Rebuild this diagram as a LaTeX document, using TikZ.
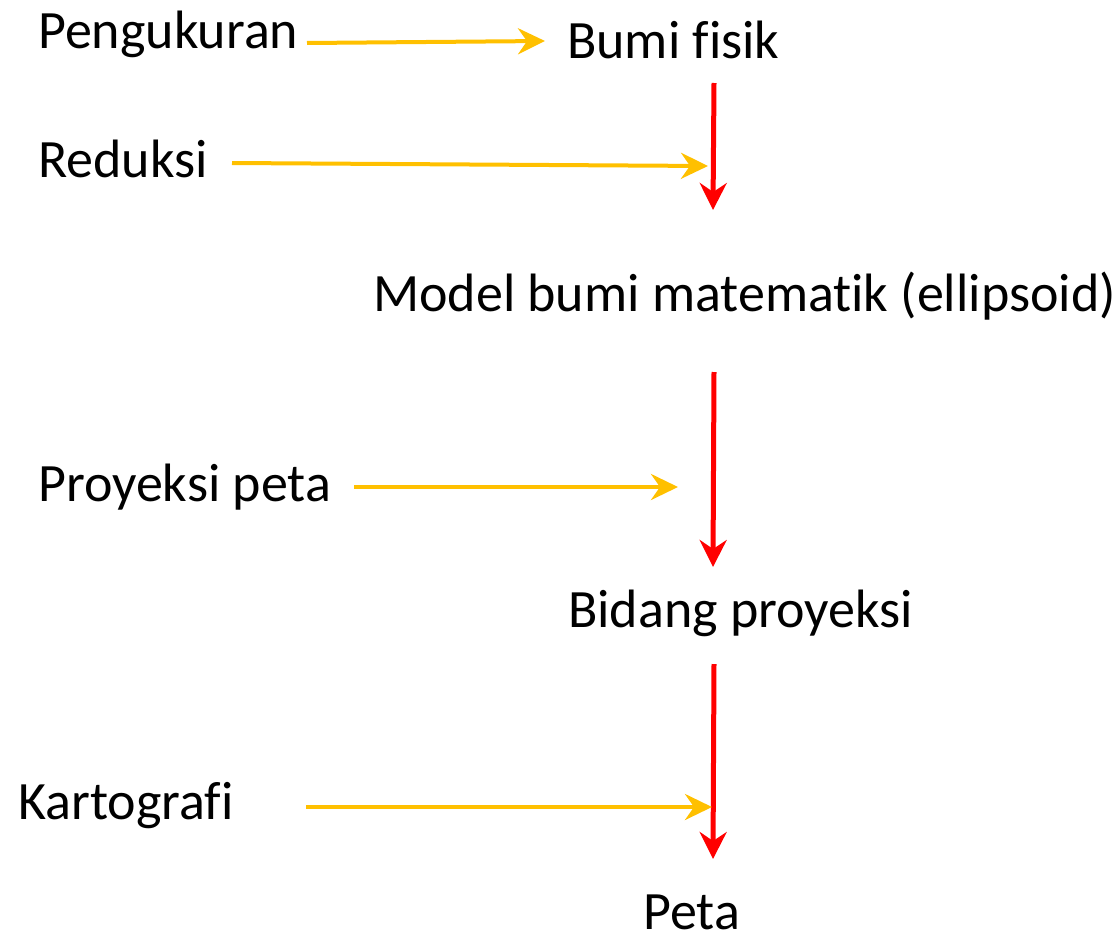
\documentclass[tikz,border=0pt]{standalone}
\usepackage{fontspec}
\setmainfont[Ligatures={NoCommon}]{Carlito}
\usetikzlibrary{arrows.meta}
\definecolor{flowyellow}{HTML}{FFC000}
\definecolor{flowred}{HTML}{FF0000}
\begin{document}
\begin{tikzpicture}[x=1pt,y=-1pt,
  label text/.style={anchor=base west,inner sep=0pt,font=\fontsize{54}{64}\selectfont},
  input arrow/.style={draw=flowyellow,line width=4pt,
    -{Stealth[length=27pt,width=26pt,inset=9pt]}},
  step arrow/.style={draw=flowred,line width=5pt,
    -{Stealth[length=27pt,width=27pt,inset=9pt]}}]
\useasboundingbox (0,0) rectangle (1119,937);

% stage labels
\node[label text] (bumi) at (567,58) {Bumi fisik};
\node[label text] (model) at (373,311) {Model bumi matematik (ellipsoid)};
\node[label text] (bidang) at (568,627) {Bidang proyeksi};
\node[label text] (peta) at (643,929) {Peta};

% process labels
\node[label text] (ukur) at (38,48) {Pengukuran};
\node[label text] (reduksi) at (38,177) {Reduksi};
\node[label text] (proyeksi) at (38,501) {Proyeksi peta};
\node[label text] (karto) at (18,819) {Kartografi};

% arrow end points
\coordinate (u1) at (307,43);  \coordinate (u2) at (545,41);
\coordinate (r1) at (232,163); \coordinate (r2) at (708,166);
\coordinate (p1) at (354,487); \coordinate (p2) at (678,487);
\coordinate (k1) at (306,807); \coordinate (k2) at (712,807);
\coordinate (s1a) at (714,83);  \coordinate (s1b) at (713,210);
\coordinate (s2a) at (714,372); \coordinate (s2b) at (713,567);
\coordinate (s3a) at (714,664); \coordinate (s3b) at (713,859);

% main flow
\draw[step arrow] (s1a) -- (s1b);
\draw[step arrow] (s2a) -- (s2b);
\draw[step arrow] (s3a) -- (s3b);

% process inputs
\draw[input arrow] (u1) -- (u2);
\draw[input arrow] (r1) -- (r2);
\draw[input arrow] (p1) -- (p2);
\draw[input arrow] (k1) -- (k2);
\end{tikzpicture}
\end{document}
